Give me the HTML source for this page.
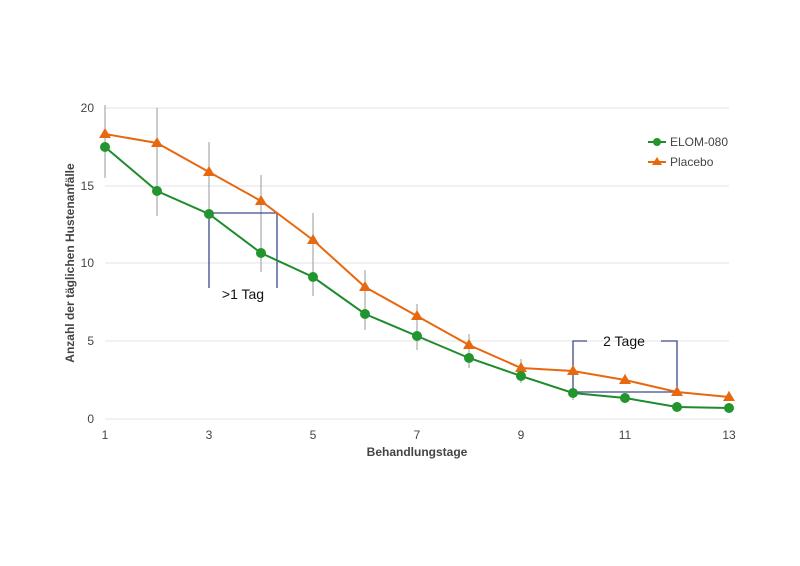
<!DOCTYPE html>
<html><head><meta charset="utf-8"><style>body{margin:0;background:#fff}svg{display:block}text{font-family:"Liberation Sans",sans-serif}</style></head><body>
<svg width="800" height="566" xmlns="http://www.w3.org/2000/svg">
<g stroke="#e3e3e3" stroke-width="1">
<line x1="105" y1="108" x2="729" y2="108"/><line x1="105" y1="186" x2="729" y2="186"/><line x1="105" y1="263" x2="729" y2="263"/><line x1="105" y1="341" x2="729" y2="341"/><line x1="105" y1="419" x2="729" y2="419"/>
</g>
<g font-size="12" fill="#444" text-anchor="end">
<text x="94" y="112">20</text><text x="94" y="190">15</text><text x="94" y="267">10</text><text x="94" y="345">5</text><text x="94" y="423">0</text>
</g>
<g font-size="12" fill="#444" text-anchor="middle">
<text x="105" y="439">1</text><text x="209" y="439">3</text><text x="313" y="439">5</text><text x="417" y="439">7</text><text x="521" y="439">9</text><text x="625" y="439">11</text><text x="729" y="439">13</text>
</g>
<text x="417" y="456" font-size="12" font-weight="bold" fill="#444" text-anchor="middle">Behandlungstage</text>
<text transform="translate(74,263) rotate(-90)" font-size="12" font-weight="bold" fill="#444" text-anchor="middle">Anzahl der täglichen Hustenanfälle</text>
<g stroke="#999" stroke-width="1">
<line x1="105" y1="105" x2="105" y2="178"/><line x1="157" y1="108" x2="157" y2="216"/><line x1="209" y1="142" x2="209" y2="237"/><line x1="261" y1="175" x2="261" y2="272"/><line x1="313" y1="213" x2="313" y2="296"/><line x1="365" y1="270" x2="365" y2="330"/><line x1="417" y1="304" x2="417" y2="350"/><line x1="469" y1="334" x2="469" y2="368"/><line x1="521" y1="359" x2="521" y2="383"/><line x1="573" y1="362" x2="573" y2="400"/><line x1="625" y1="374" x2="625" y2="380"/><line x1="677" y1="386" x2="677" y2="392"/><line x1="729" y1="391" x2="729" y2="397"/>
</g>
<g stroke="#3a4a8c" stroke-width="1.3" fill="none">
<polyline points="209,288 209,213 277,213 277,288"/>
<polyline points="587,341 573,341 573,392 677,392 677,341 661,341"/>
</g>
<text x="243" y="299" font-size="14" fill="#111" text-anchor="middle">&gt;1 Tag</text>
<text x="624" y="346" font-size="14" fill="#111" text-anchor="middle">2 Tage</text>
<polyline fill="none" stroke="#e8680f" stroke-width="2" points="105,134 157,143 209,172 261,201 313,240 365,287 417,316 469,345 521,368 573,371 625,380 677,392 729,397"/>
<g fill="#e8680f">
<path d="M105,128l6,10h-12z"/><path d="M157,137l6,10h-12z"/><path d="M209,166l6,10h-12z"/><path d="M261,195l6,10h-12z"/><path d="M313,234l6,10h-12z"/><path d="M365,281l6,10h-12z"/><path d="M417,310l6,10h-12z"/><path d="M469,339l6,10h-12z"/><path d="M521,362l6,10h-12z"/><path d="M573,365l6,10h-12z"/><path d="M625,374l6,10h-12z"/><path d="M677,386l6,10h-12z"/><path d="M729,391l6,10h-12z"/>
</g>
<polyline fill="none" stroke="#1e8c2a" stroke-width="2" points="105,147 157,191 209,214 261,253 313,277 365,314 417,336 469,358 521,376 573,393 625,398 677,407 729,408"/>
<g fill="#22952e">
<circle cx="105" cy="147" r="5"/><circle cx="157" cy="191" r="5"/><circle cx="209" cy="214" r="5"/><circle cx="261" cy="253" r="5"/><circle cx="313" cy="277" r="5"/><circle cx="365" cy="314" r="5"/><circle cx="417" cy="336" r="5"/><circle cx="469" cy="358" r="5"/><circle cx="521" cy="376" r="5"/><circle cx="573" cy="393" r="5"/><circle cx="625" cy="398" r="5"/><circle cx="677" cy="407" r="5"/><circle cx="729" cy="408" r="5"/>
</g>
<line x1="648" y1="142" x2="666" y2="142" stroke="#1e8c2a" stroke-width="2"/><circle cx="657" cy="142" r="4" fill="#22952e"/>
<text x="670" y="146" font-size="12" fill="#444">ELOM-080</text>
<line x1="648" y1="162" x2="666" y2="162" stroke="#e8680f" stroke-width="2"/><path d="M657,157l5,8h-10z" fill="#e8680f"/>
<text x="670" y="166" font-size="12" fill="#444">Placebo</text>
</svg>
</body></html>
